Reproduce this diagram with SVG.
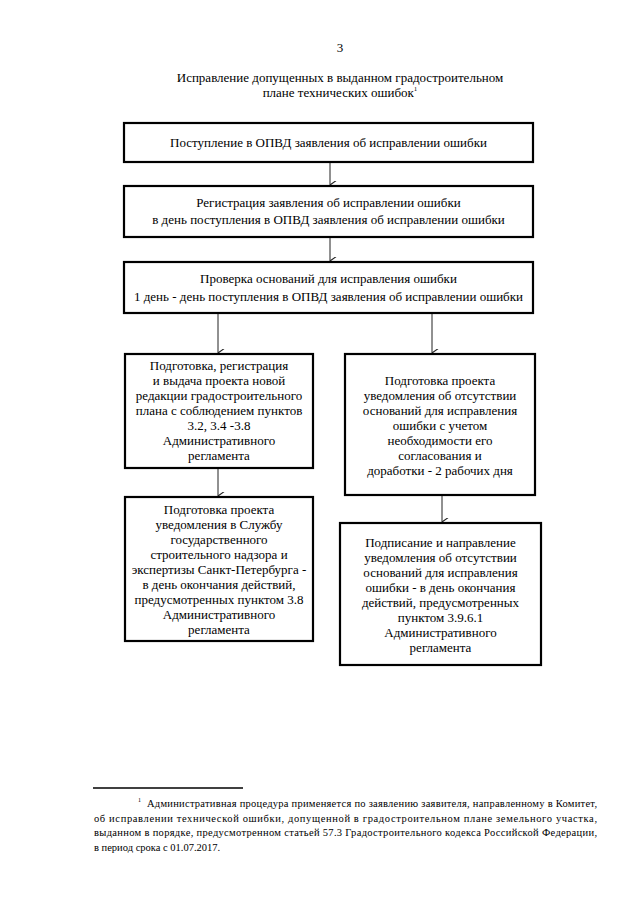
<svg xmlns="http://www.w3.org/2000/svg" width="640" height="905" viewBox="0 0 640 905">
<defs>
<style>
.t{font-family:"Liberation Serif","Times New Roman",serif;font-size:13px;fill:#000;text-anchor:middle}
.f{font-family:"Liberation Serif","Times New Roman",serif;font-size:10.5px;fill:#000}
.box{fill:#fff;stroke:#000;stroke-width:2.2}
.c{stroke:#222;stroke-width:1;fill:none}
</style>
<marker id="ah" viewBox="0 0 10 10" refX="5" refY="10" markerWidth="9" markerHeight="9" markerUnits="userSpaceOnUse" orient="auto-start-reverse">
<path d="M0,3 L5,10 L10,3" fill="none" stroke="#222" stroke-width="1.2"/>
</marker>
</defs>
<rect width="640" height="905" fill="#fff"/>
<text class="t" x="340" y="52">3</text>
<text class="t" x="340" y="82">Исправление допущенных в выданном градостроительном</text>
<text class="t" x="340" y="97">плане технических ошибок<tspan style="font-size:7px" dy="-6">1</tspan></text>

<g id="connectors">
<line class="c" x1="330" y1="162" x2="330" y2="185" marker-end="url(#ah)"/>
<line class="c" x1="330" y1="237" x2="330" y2="261" marker-end="url(#ah)"/>
<line class="c" x1="218" y1="313" x2="218" y2="353" marker-end="url(#ah)"/>
<line class="c" x1="432" y1="313" x2="432" y2="353" marker-end="url(#ah)"/>
<line class="c" x1="218" y1="468" x2="218" y2="496" marker-end="url(#ah)"/>
<line class="c" x1="442" y1="495" x2="442" y2="522" marker-end="url(#ah)"/>
</g>

<g id="n1">
<rect class="box" x="124" y="123" width="409" height="39"/>
<text class="t" x="328.5" y="147">Поступление в ОПВД заявления об исправлении ошибки</text>
</g>
<g id="n2">
<rect class="box" x="124" y="186" width="409" height="51"/>
<text class="t" x="328.5" y="207">Регистрация заявления об исправлении ошибки</text>
<text class="t" x="328.5" y="224">в день поступления в ОПВД заявления об исправлении ошибки</text>
</g>
<g id="n3">
<rect class="box" x="124" y="262" width="409" height="51"/>
<text class="t" x="328.5" y="283">Проверка оснований для исправления ошибки</text>
<text class="t" x="328.5" y="301">1 день - день поступления в ОПВД заявления об исправлении ошибки</text>
</g>
<g id="n4">
<rect class="box" x="125" y="354" width="188" height="114"/>
<text class="t" x="219" y="370">Подготовка, регистрация</text>
<text class="t" x="219" y="385">и выдача проекта новой</text>
<text class="t" x="219" y="400">редакции градостроительного</text>
<text class="t" x="219" y="415">плана с соблюдением пунктов</text>
<text class="t" x="219" y="430">3.2, 3.4 -3.8</text>
<text class="t" x="219" y="445">Административного</text>
<text class="t" x="219" y="460">регламента</text>
</g>
<g id="n5">
<rect class="box" x="345" y="354" width="190" height="141"/>
<text class="t" x="440" y="385">Подготовка проекта</text>
<text class="t" x="440" y="400">уведомления об отсутствии</text>
<text class="t" x="440" y="415">оснований для исправления</text>
<text class="t" x="440" y="430">ошибки с учетом</text>
<text class="t" x="440" y="445">необходимости его</text>
<text class="t" x="440" y="460">согласования и</text>
<text class="t" x="440" y="475">доработки - 2 рабочих дня</text>
</g>
<g id="n6">
<rect class="box" x="125" y="497" width="188" height="144"/>
<text class="t" x="219" y="514">Подготовка проекта</text>
<text class="t" x="219" y="529">уведомления в Службу</text>
<text class="t" x="219" y="544">государственного</text>
<text class="t" x="219" y="559">строительного надзора и</text>
<text class="t" x="219" y="574">экспертизы Санкт-Петербурга -</text>
<text class="t" x="219" y="589">в день окончания действий,</text>
<text class="t" x="219" y="604">предусмотренных пунктом 3.8</text>
<text class="t" x="219" y="619">Административного</text>
<text class="t" x="219" y="634">регламента</text>
</g>
<g id="n7">
<rect class="box" x="340" y="523" width="201" height="142"/>
<text class="t" x="440.5" y="547">Подписание и направление</text>
<text class="t" x="440.5" y="562">уведомления об отсутствии</text>
<text class="t" x="440.5" y="577">оснований для исправления</text>
<text class="t" x="440.5" y="592">ошибки - в день окончания</text>
<text class="t" x="440.5" y="607">действий, предусмотренных</text>
<text class="t" x="440.5" y="622">пунктом 3.9.6.1</text>
<text class="t" x="440.5" y="637">Административного</text>
<text class="t" x="440.5" y="652">регламента</text>
</g>

<g id="footnote">
<line x1="93" y1="788" x2="243" y2="788" stroke="#000" stroke-width="1.3"/>
<text class="f" x="138" y="802" style="font-size:6px">1</text>
<text class="f" x="147" y="807" textLength="450" lengthAdjust="spacing">Административная процедура применяется по заявлению заявителя, направленному в Комитет,</text>
<text class="f" x="94" y="822" textLength="503" lengthAdjust="spacing">об исправлении технической ошибки, допущенной в градостроительном плане земельного участка,</text>
<text class="f" x="94" y="836" textLength="503" lengthAdjust="spacing">выданном в порядке, предусмотренном статьей 57.3 Градостроительного кодекса Российской Федерации,</text>
<text class="f" x="94" y="851">в период срока с 01.07.2017.</text>
</g>
</svg>
